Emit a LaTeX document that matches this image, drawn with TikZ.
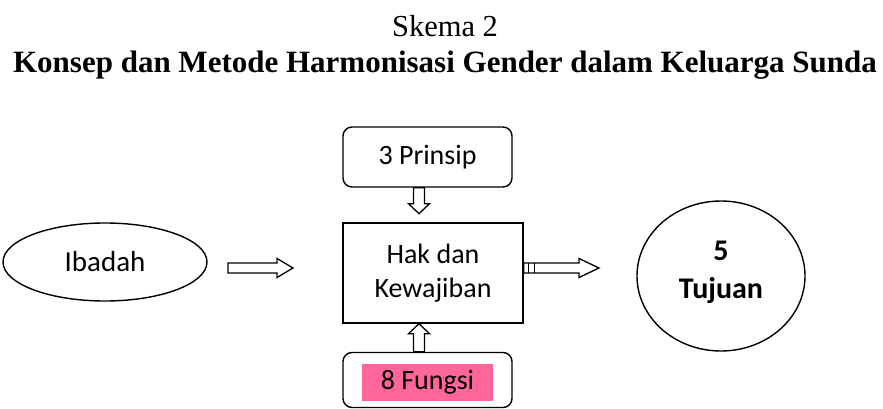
\documentclass[tikz,border=0pt]{standalone}
\usepackage{fontspec}
\setmainfont{Liberation Serif}
\newfontfamily\calfont{Carlito}
\usetikzlibrary{shapes.geometric,calc}
\definecolor{hlpink}{RGB}{255,102,153}
\tikzset{
  shapeline/.style={draw=black, line width=1.4pt},
  roundbox/.style={shapeline, rounded corners=9pt, inner sep=0pt, minimum width=169pt},
  plainbox/.style={shapeline, inner sep=0pt},
  ovalnode/.style={shapeline, ellipse, inner sep=0pt},
  boxtext/.style={font=\calfont\fontsize{28}{34}\selectfont, align=center},
  blockarrow/.style={draw=black, line width=1.3pt, fill=white, line join=miter},
}
\newcommand\blockarr[5]{%
  \coordinate (ba-h) at ($(#2)!#5!(#1)$);
  \draw[blockarrow] ($(#1)!#3!90:(#2)$) -- ($(ba-h)!#3!-90:(#1)$) -- ($(ba-h)!#4!-90:(#1)$)
    -- (#2) -- ($(ba-h)!#4!90:(#1)$) -- ($(ba-h)!#3!90:(#1)$) -- ($(#1)!#3!-90:(#2)$) -- cycle;}
\begin{document}
\begin{tikzpicture}[x=1pt,y=-1pt]
\useasboundingbox (0,0) rectangle (883,409);
% titles
\node[anchor=base, inner sep=0pt, font=\fontsize{30.5}{34}\selectfont] (skema) at (445,37) {Skema 2};
\node[anchor=base, inner sep=0pt, font=\bfseries\fontsize{31}{34}\selectfont] (title) at (445,73) {Konsep dan Metode Harmonisasi Gender dalam Keluarga Sunda};
% nodes
\node[roundbox, minimum height=60pt, boxtext] (prinsip) at (427.5,157) {3 Prinsip};
\node[plainbox, minimum width=180pt, minimum height=100pt, boxtext] (hak) at (433,273) {Hak dan\\Kewajiban};
\node[roundbox, minimum height=55pt] (fungsi) at (427.5,380) {};
\node[fill=hlpink, inner sep=0pt, minimum width=131pt, minimum height=37pt, boxtext] (fungsitext) at (427.5,382.5) {8 Fungsi};
\node[ovalnode, minimum width=204pt, minimum height=78pt, font=\calfont\fontsize{29}{34}\selectfont] (ibadah) at (105,262) {Ibadah};
\node[ovalnode, minimum width=168pt, minimum height=150pt] (tujuan) at (721,276) {};
\node[font=\calfont\bfseries\fontsize{30}{38}\selectfont, align=center, inner sep=0pt] (tujuantext) at (721,272.5) {5\\Tujuan};
% connector coordinates
\coordinate (a1s) at (228,268);
\coordinate (a1e) at (293,268);
\coordinate (a2s) at ($(hak.east)+(0,-5)$);
\coordinate (a2e) at (599,268);
\coordinate (a3s) at ($(prinsip.south)+(-8.5,0)$);
\coordinate (a3e) at ($(prinsip.south)+(-8.5,26)$);
\coordinate (a4s) at ($(fungsi.north)+(-8.5,0)$);
\coordinate (a4e) at ($(hak.south)+(-14,0)$);
% connectors
\blockarr{a1s}{a1e}{5pt}{9.5pt}{16pt}
\blockarr{a2s}{a2e}{5pt}{9.5pt}{20pt}
\draw[line width=1.3pt] ($(a2s)+(5,-5)$) -- ($(a2s)+(5,5)$);
\draw[line width=1.3pt] ($(a2s)+(11,-5)$) -- ($(a2s)+(11,5)$);
\blockarr{a3s}{a3e}{5.5pt}{10.5pt}{10pt}
\blockarr{a4s}{a4e}{5.5pt}{10.5pt}{10pt}
\end{tikzpicture}
\end{document}
